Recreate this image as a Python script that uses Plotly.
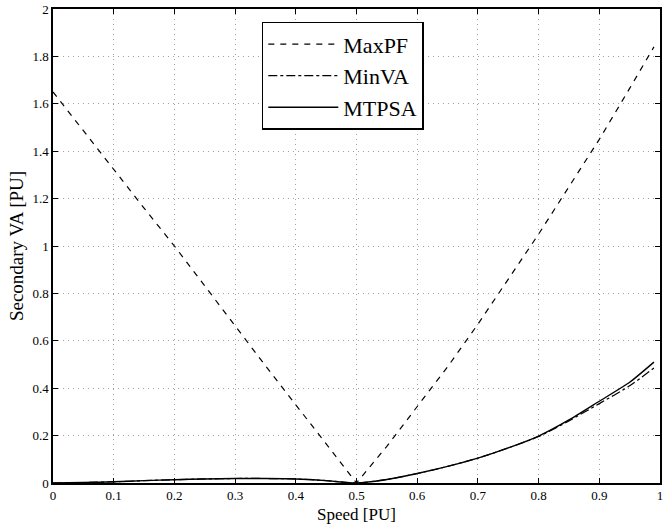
import plotly.graph_objects as go

speed = [0.0, 0.05, 0.1, 0.15, 0.2, 0.25, 0.3, 0.35, 0.4, 0.45, 0.5,
         0.55, 0.6, 0.65, 0.7, 0.75, 0.8, 0.85, 0.9, 0.95, 0.99]
maxpf = [1.65, 1.485, 1.32, 1.16, 1.0, 0.83, 0.66, 0.495, 0.33, 0.165, 0.0,
         0.155, 0.32, 0.49, 0.67, 0.86, 1.05, 1.25, 1.45, 1.665, 1.84]
minva = [0.0, 0.002, 0.005, 0.01, 0.014, 0.017, 0.019, 0.019, 0.017, 0.01, 0.0,
         0.015, 0.04, 0.07, 0.105, 0.148, 0.196, 0.262, 0.335, 0.41, 0.485]
mtpsa = [0.0, 0.002, 0.005, 0.01, 0.014, 0.017, 0.019, 0.019, 0.017, 0.01, 0.0,
         0.015, 0.04, 0.07, 0.105, 0.148, 0.198, 0.266, 0.345, 0.425, 0.51]

xticks = [0, 0.1, 0.2, 0.3, 0.4, 0.5, 0.6, 0.7, 0.8, 0.9, 1]
xtick_labels = ["0", "0.1", "0.2", "0.3", "0.4", "0.5", "0.6", "0.7", "0.8", "0.9", "1"]
yticks = [0, 0.2, 0.4, 0.6, 0.8, 1, 1.2, 1.4, 1.6, 1.8, 2]
ytick_labels = ["0", "0.2", "0.4", "0.6", "0.8", "1", "1.2", "1.4", "1.6", "1.8", "2"]
x_title = "Speed [PU]"
y_title = "Secondary VA [PU]"

font = "Liberation Serif, Times New Roman, serif"

fig = go.Figure()
fig.add_trace(go.Scatter(x=speed, y=maxpf, mode="lines", name="MaxPF",
                         line=dict(color="black", width=1.2, dash="6px,6px")))
fig.add_trace(go.Scatter(x=speed, y=minva, mode="lines", name="MinVA",
                         line=dict(color="black", width=1.2, dash="dashdot", shape="spline", smoothing=0.6)))
fig.add_trace(go.Scatter(x=speed, y=mtpsa, mode="lines", name="MTPSA",
                         line=dict(color="black", width=1.4, shape="spline", smoothing=0.6)))

axis_common = dict(showline=True, linecolor="black", linewidth=1.5, mirror="ticks",
                   ticks="inside", ticklen=5, tickcolor="black", automargin=False,
                   showgrid=True, gridcolor="#a0a0a0", griddash="1px,4px", gridwidth=1,
                   zeroline=False, tickfont=dict(family=font, size=13, color="black"))

fig.update_xaxes(range=[0, 1], tickvals=xticks, ticktext=xtick_labels, **axis_common)
fig.update_yaxes(range=[0, 2], tickvals=yticks, ticktext=ytick_labels,
                 title=dict(text=y_title, font=dict(family=font, size=19, color="black"),
                            standoff=4), **axis_common)

fig.add_annotation(text=x_title, xref="paper", yref="paper", x=0.5, y=0,
                   xanchor="center", yanchor="top", yshift=-21, showarrow=False,
                   borderpad=0, font=dict(family=font, size=17, color="black"))

fig.update_layout(
    width=672, height=528,
    margin=dict(l=53, r=12, t=9, b=45, autoexpand=False),
    paper_bgcolor="white", plot_bgcolor="white",
    font=dict(family=font, color="black"),
    showlegend=True,
    legend=dict(x=0.344, y=0.973, xanchor="left", yanchor="top",
                bgcolor="white", bordercolor="black", borderwidth=1.5,
                font=dict(family=font, size=22, color="black"),
                itemwidth=70, tracegroupgap=0),
)

fig.write_html("out.html", config={"displayModeBar": False},
               post_script="document.body.style.margin='0';")
